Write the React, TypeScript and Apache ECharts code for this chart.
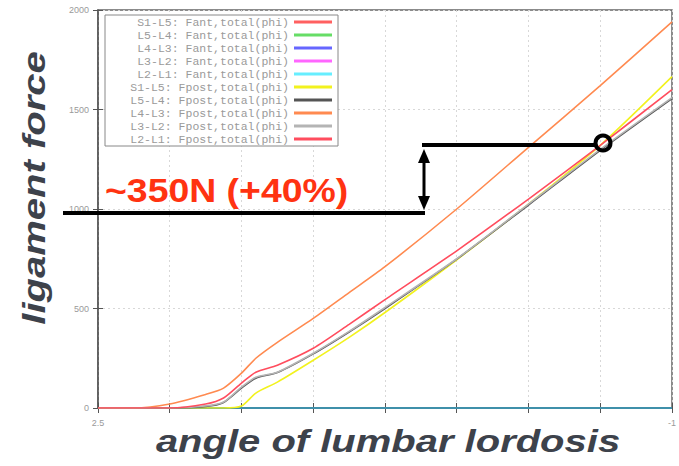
import React, { useEffect, useRef } from "react";
import * as echarts from "echarts";

// x positions (tick index units: 0 = "2.5" ... 8 = "-1")
const xPoints = [0, 0.5, 1, 1.5, 1.75, 2, 2.2, 2.5, 3, 3.5, 4, 5, 6, 7, 8];
const xTickLabels = ["2.5", "", "", "", "", "", "", "", "-1"];
const yTickLabels = ["0", "500", "1000", "1500", "2000"];

const fantS1L5 = [0, 0, 0, 0, 0, 0, 0, 0, 0, 0, 0, 0, 0, 0, 0];
const fantL5L4 = [0, 0, 0, 0, 0, 0, 0, 0, 0, 0, 0, 0, 0, 0, 0];
const fantL4L3 = [0, 0, 0, 0, 0, 0, 0, 0, 0, 0, 0, 0, 0, 0, 0];
const fantL3L2 = [0, 0, 0, 0, 0, 0, 0, 0, 0, 0, 0, 0, 0, 0, 0];
const fantL2L1 = [0, 0, 0, 0, 0, 0, 0, 0, 0, 0, 0, 0, 0, 0, 0];

const fpostS1L5 = [0, 0, 0, 0, 0, 10, 75, 130, 240, 355, 480, 745, 1025, 1320, 1665];
const fpostL5L4 = [0, 0, 0, 8, 28, 100, 150, 178, 272, 382, 500, 748, 1020, 1295, 1555];
const fpostL4L3 = [0, 0, 20, 68, 100, 175, 250, 330, 450, 580, 710, 1000, 1310, 1620, 1940];
const fpostL3L2 = [0, 0, 0, 10, 30, 105, 155, 180, 275, 385, 505, 750, 1025, 1300, 1560];
const fpostL2L1 = [0, 0, 0, 20, 50, 125, 180, 215, 300, 420, 545, 790, 1050, 1320, 1600];

const seriesNames = [
  "S1-L5: Fant,total(phi)",
  "L5-L4: Fant,total(phi)",
  "L4-L3: Fant,total(phi)",
  "L3-L2: Fant,total(phi)",
  "L2-L1: Fant,total(phi)",
  "S1-L5: Fpost,total(phi)",
  "L5-L4: Fpost,total(phi)",
  "L4-L3: Fpost,total(phi)",
  "L3-L2: Fpost,total(phi)",
  "L2-L1: Fpost,total(phi)",
];
const seriesValues = [
  fantS1L5, fantL5L4, fantL4L3, fantL3L2, fantL2L1,
  fpostS1L5, fpostL5L4, fpostL4L3, fpostL3L2, fpostL2L1,
];
const legendColors = [
  "#ff6060", "#66dd66", "#6666ff", "#ff66ff", "#66eeff",
  "#f2f21e", "#555555", "#ff8a50", "#b4b4b4", "#ff4d5e",
];
const lineColors = [
  "#ff6060", "#66dd66", "#6666ff", "#ff66ff", "#3f90aa",
  "#f2f21e", "#555555", "#ff8a50", "#b4b4b4", "#ff4d5e",
];

export default function App() {
  const ref = useRef<HTMLDivElement>(null);

  useEffect(() => {
    if (!ref.current) return;
    const chart = echarts.init(ref.current, null, { renderer: "svg" });

    const series = seriesNames.map((name, i) => ({
      name,
      type: "line",
      data: xPoints.map((x, j) => [x, seriesValues[i][j]]),
      showSymbol: false,
      symbol: "none",
      smooth: 0.25,
      color: legendColors[i],
      itemStyle: { color: legendColors[i] },
      lineStyle: { width: i >= 5 ? 1.6 : 2, color: lineColors[i] },
      xAxisIndex: 0,
      yAxisIndex: 0,
      z: 2 + i,
    }));

    const titleColor = "#3d424b";

    chart.setOption({
      animation: false,
      backgroundColor: "#ffffff",
      grid: {
        left: 98,
        top: 10,
        width: 578,
        height: 398,
        show: true,
        borderColor: "#666",
        borderWidth: 1.5,
      },
      xAxis: [
        {
          type: "value",
          min: 0,
          max: 8,
          interval: 1,
          position: "bottom",
          axisLine: { show: true, lineStyle: { color: "#555", width: 1.5 } },
          axisTick: { show: true, inside: true, length: 5, lineStyle: { color: "#555" } },
          splitLine: { show: true, lineStyle: { type: [2, 3], color: "#d8d8d8" } },
          axisLabel: {
            formatter: (v: number) => xTickLabels[Math.round(v)] ?? "",
            color: "#9a9a9a",
            fontSize: 9,
            fontFamily: "Liberation Sans",
            margin: 10,
          },
        },
        {
          type: "value",
          min: 0,
          max: 8,
          interval: 1,
          position: "top",
          axisLine: { show: false },
          axisTick: { show: true, inside: true, length: 5, lineStyle: { color: "#555" } },
          splitLine: { show: false },
          axisLabel: { show: false },
        },
      ],
      yAxis: [
        {
          type: "value",
          min: 0,
          max: 2000,
          interval: 500,
          position: "left",
          axisLine: { show: true, lineStyle: { color: "#555", width: 1.5 } },
          axisTick: { show: true, inside: true, length: 5, lineStyle: { color: "#555" } },
          splitLine: { show: true, lineStyle: { type: [2, 3], color: "#d8d8d8" } },
          axisLabel: {
            formatter: (v: number) => yTickLabels[Math.round(v / 500)] ?? "",
            color: "#9a9a9a",
            fontSize: 9,
            fontFamily: "Liberation Sans",
            margin: 9,
          },
        },
        {
          type: "value",
          min: 0,
          max: 2000,
          interval: 500,
          position: "right",
          axisLine: { show: false },
          axisTick: { show: true, inside: true, length: 5, lineStyle: { color: "#555" } },
          splitLine: { show: false },
          axisLabel: { show: false },
        },
      ],
      legend: {
        orient: "vertical",
        left: 105,
        top: 15,
        align: "right",
        icon: "rect",
        itemWidth: 38,
        itemHeight: 3,
        itemGap: 1,
        padding: [1, 6, 1, 6],
        borderColor: "#888",
        borderWidth: 1,
        backgroundColor: "#ffffff",
        selectedMode: false,
        data: seriesNames,
        formatter: (name: string) => `{a|${name}}`,
        textStyle: {
          fontFamily: "Liberation Mono",
          fontSize: 11.5,
          color: "#9a9a9a",
          rich: {
            a: {
              width: 178,
              height: 12,
              align: "right",
              fontFamily: "Liberation Mono",
              fontSize: 11.5,
              lineHeight: 12,
              color: "#9a9a9a",
            },
          },
        },
        z: 20,
      },
      series,
      graphic: [
        {
          type: "text",
          x: 34,
          y: 188,
          rotation: Math.PI / 2,
          scaleX: 1.25,
          z: 100,
          style: {
            text: "ligament force",
            fontFamily: "Liberation Sans",
            fontWeight: "bold",
            fontStyle: "italic",
            fontSize: 32,
            fill: titleColor,
            align: "center",
            verticalAlign: "middle",
          },
        },
        {
          type: "text",
          x: 388,
          y: 442,
          scaleX: 1.29,
          z: 100,
          style: {
            text: "angle of lumbar lordosis",
            fontFamily: "Liberation Sans",
            fontWeight: "bold",
            fontStyle: "italic",
            fontSize: 31,
            fill: titleColor,
            align: "center",
            verticalAlign: "middle",
          },
        },
        {
          type: "text",
          x: 105,
          y: 191,
          scaleX: 1.1,
          z: 100,
          style: {
            text: "~350N (+40%)",
            fontFamily: "Liberation Sans",
            fontWeight: "bold",
            fontSize: 34,
            fill: "#ff3311",
            align: "left",
            verticalAlign: "middle",
          },
        },
        {
          type: "line",
          z: 100,
          shape: { x1: 63, y1: 213, x2: 425, y2: 213 },
          style: { stroke: "#000", lineWidth: 4 },
        },
        {
          type: "line",
          z: 100,
          shape: { x1: 422, y1: 145, x2: 597, y2: 145 },
          style: { stroke: "#000", lineWidth: 4 },
        },
        {
          type: "line",
          z: 100,
          shape: { x1: 424, y1: 158, x2: 424, y2: 201 },
          style: { stroke: "#000", lineWidth: 3 },
        },
        {
          type: "polygon",
          z: 100,
          shape: { points: [[424, 149], [418, 163], [430, 163]] },
          style: { fill: "#000" },
        },
        {
          type: "polygon",
          z: 100,
          shape: { points: [[424, 210], [418, 196], [430, 196]] },
          style: { fill: "#000" },
        },
        {
          type: "circle",
          z: 100,
          shape: { cx: 603, cy: 143, r: 7.5 },
          style: { fill: "none", stroke: "#000", lineWidth: 4 },
        },
      ],
    });

    return () => {
      chart.dispose();
    };
  }, []);

  return (
    <div
      ref={ref}
      style={{ position: "absolute", left: 0, top: 0, width: 679, height: 466 }}
    />
  );
}
